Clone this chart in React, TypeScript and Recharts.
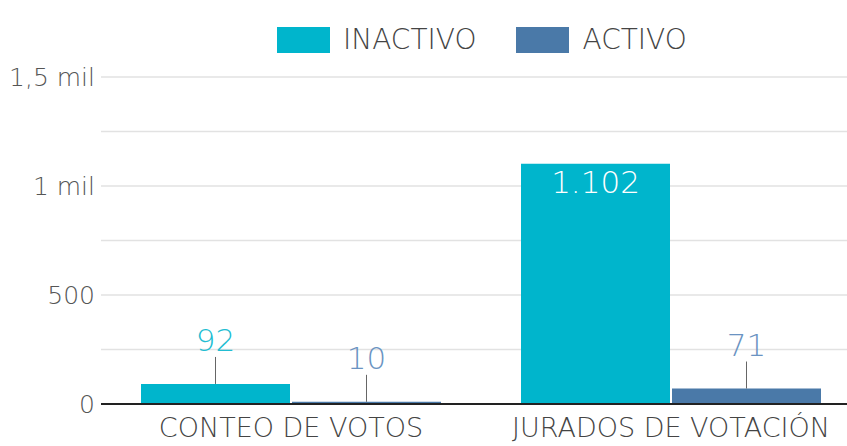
import React from "react";
import { BarChart, Bar, XAxis, YAxis, CartesianGrid, LabelList } from "recharts";

const categories = ["CONTEO DE VOTOS", "JURADOS DE VOTACIÓN"];
const inactivo = [92, 1102];
const activo = [10, 71];
const seriesNames = ["INACTIVO", "ACTIVO"];
const yTicks = [0, 250, 500, 750, 1000, 1250, 1500];
const yTickLabels: Record<number, string> = { 0: "0", 500: "500", 1000: "1 mil", 1500: "1,5 mil" };

const data = categories.map((c, i) => ({ name: c, inactivo: inactivo[i], activo: activo[i] }));

const FONT = "'DejaVu Sans', sans-serif";
const C_IN = "#00b5cc";
const C_AC = "#4a79a8";
const L_IN = "#22bdd2";
const L_AC = "#6a93c2";

const fmt = (v: number) => v.toLocaleString("de-DE");

const makeLabel = (labelColor: string, insideAbove: number | null) => (props: any) => {
  const { x, y, width, value } = props;
  const cx = x + width / 2;
  if (insideAbove !== null && value > insideAbove) {
    return (
      <text x={cx} y={y + 21} textAnchor="middle" dominantBaseline="middle" fill="#ffffff" fontSize={31} fontWeight={300} fontFamily={FONT}>
        {fmt(value)}
      </text>
    );
  }
  return (
    <g>
      <line x1={cx} x2={cx} y1={y - 27} y2={y} stroke="#666" strokeWidth={1} />
      <text x={cx} y={y - 41} textAnchor="middle" dominantBaseline="middle" fill={labelColor} fontSize={31} fontWeight={300} fontFamily={FONT}>
        {fmt(value)}
      </text>
    </g>
  );
};

export default function App() {
  return (
    <div style={{ position: "absolute", left: 0, top: 0, width: 847, height: 446, overflow: "hidden", background: "#fff" }}>
      <div style={{ position: "absolute", top: 23, left: 277, display: "flex", alignItems: "center", fontFamily: FONT, fontWeight: 300, fontSize: 28, color: "#444" }}>
        <span style={{ display: "inline-block", width: 53, height: 26, background: C_IN }} />
        <span style={{ marginLeft: 13, marginRight: 40 }}>{seriesNames[0]}</span>
        <span style={{ display: "inline-block", width: 53, height: 26, background: C_AC }} />
        <span style={{ marginLeft: 13 }}>{seriesNames[1]}</span>
      </div>
      <BarChart width={861} height={446} data={data} margin={{ top: 77, right: 0, bottom: 0, left: 0 }} barGap={2} barSize={149}>
        <CartesianGrid horizontal vertical={false} stroke="#e2e2e2" strokeWidth={1.5} />
        <YAxis
          width={101}
          domain={[0, 1500]}
          ticks={yTicks}
          interval={0}
          axisLine={false}
          tickLine={false}
          tickFormatter={(v: number) => yTickLabels[v] ?? ""}
          tick={{ fill: "#555", fontSize: 25, fontFamily: FONT, fontWeight: 300 }}
          tickMargin={0}
        />
        <XAxis
          dataKey="name"
          height={42}
          tickLine={false}
          axisLine={{ stroke: "#222", strokeWidth: 2 }}
          tick={{ fill: "#444", fontSize: 27, fontFamily: FONT, fontWeight: 300 }}
          tickMargin={8}
          interval={0}
        />
        <Bar dataKey="inactivo" fill={C_IN} isAnimationActive={false}>
          <LabelList dataKey="inactivo" content={makeLabel(L_IN, 500)} />
        </Bar>
        <Bar dataKey="activo" fill={C_AC} isAnimationActive={false}>
          <LabelList dataKey="activo" content={makeLabel(L_AC, null)} />
        </Bar>
      </BarChart>
    </div>
  );
}
